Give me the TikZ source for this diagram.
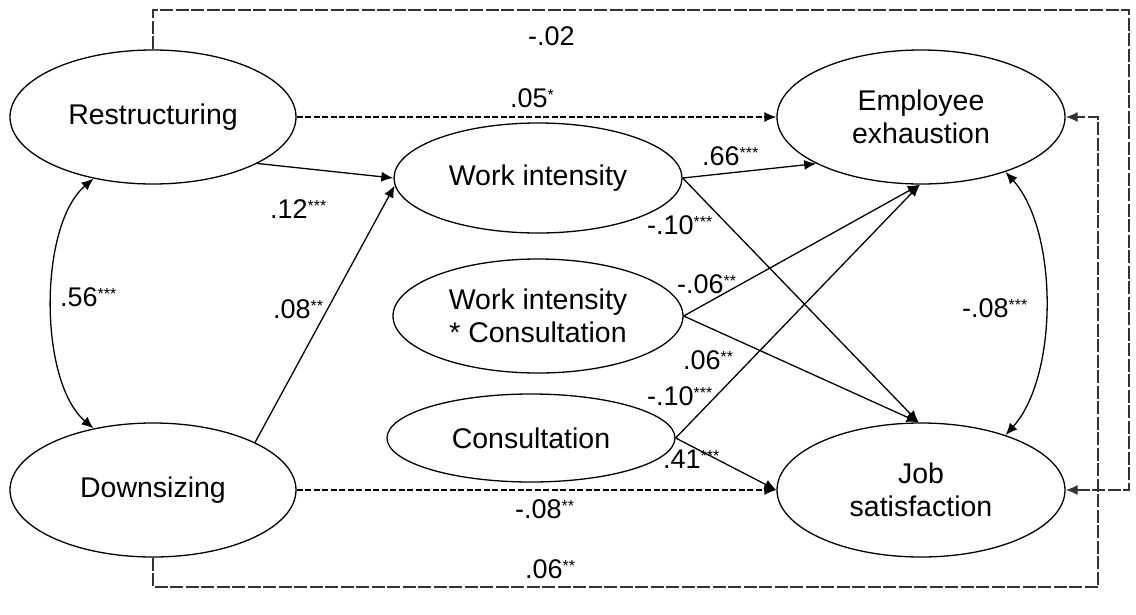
\documentclass[tikz,border=0pt]{standalone}
\usepackage{fontspec}
\setmainfont{Liberation Sans}
\usetikzlibrary{shapes.geometric,arrows.meta}
\newcommand{\sg}[1]{\raisebox{7pt}{\fontsize{16}{16}\selectfont #1}}
\begin{document}
\begin{tikzpicture}[x=1pt,y=-1pt,
  var/.style={draw, ellipse, line width=1.3pt, inner sep=0pt, align=center, font=\fontsize{28.5}{33}\selectfont},
  arr/.style={line width=1.3pt, -{Latex[length=12pt,width=10pt]}},
  darr/.style={arr, dash pattern=on 6pt off 2.5pt},
  dbl/.style={line width=1.3pt, {Latex[length=12pt,width=10pt]}-{Latex[length=12pt,width=10pt]}},
  linkbox/.style={line width=1.3pt, draw=black!80, dash pattern=on 13pt off 2.5pt, -{Latex[length=12pt,width=10pt]}},
  lbl/.style={anchor=base west, inner sep=0pt, font=\fontsize{27}{30}\selectfont}]
\useasboundingbox (0,0) rectangle (1136,614);

\node[var, minimum width=286pt, minimum height=134pt] (R) at (153,117) {Restructuring};
\node[var, minimum width=286pt, minimum height=134pt] (D) at (153,490) {Downsizing};
\node[var, minimum width=288pt, minimum height=134pt] (EE) at (921,117) {Employee\\exhaustion};
\node[var, minimum width=288pt, minimum height=134pt] (JS) at (921,490) {Job\\satisfaction};
\node[var, minimum width=288pt, minimum height=110pt] (WI) at (538,178) {Work intensity};
\node[var, minimum width=290pt, minimum height=114pt] (WC) at (538,316) {Work intensity\\* Consultation};
\node[var, minimum width=288pt, minimum height=88pt] (C) at (531,438) {Consultation};

\coordinate (tr) at (1129,10);
\coordinate (br) at (1098,587);

% dashed long links
\draw[linkbox] (R.north) |- (tr) |- (JS.east);
\draw[linkbox] (D.south) |- (br) |- (EE.east);

% paths
\draw[arr] (R.-24) -- (WI.180);
\draw[arr] (D.25) -- (WI.183);
\draw[darr] (R.east) -- (EE.west);
\draw[darr] (D.east) -- (JS.west);
\draw[arr] (WI.east) -- (EE.204);
\draw[arr] (WI.east) -- (JS.92);
\draw[arr] (WC.east) -- (EE.269);
\draw[arr] (WC.east) -- (JS.92);
\draw[arr] (C.east) -- (EE.269);
\draw[arr] (C.east) -- (JS.west);

% covariances
\draw[dbl] (R.226) .. controls +(-55,47) and +(-55,-47) .. (D.134);
\draw[dbl] (EE.-33) .. controls +(53,59) and +(53,-59) .. (JS.33);

% labels
\node[lbl] (l1) at (528,45) {-.02};
\node[lbl] (l2) at (510,107) {.05\sg{*}};
\node[lbl] (l3) at (270,218) {.12\sg{***}};
\node[lbl] (l4) at (273,318) {.08\sg{**}};
\node[lbl] (l5) at (60,306) {.56\sg{***}};
\node[lbl] (l6) at (702,165) {.66\sg{***}};
\node[lbl] (l7) at (647,234) {-.10\sg{***}};
\node[lbl] (l8) at (677,293) {-.06\sg{**}};
\node[lbl] (l9) at (683,369) {.06\sg{**}};
\node[lbl] (l10) at (647,405) {-.10\sg{***}};
\node[lbl] (l11) at (663,468) {.41\sg{***}};
\node[lbl] (l12) at (515,518) {-.08\sg{**}};
\node[lbl] (l13) at (525,578) {.06\sg{**}};
\node[lbl] (l14) at (962,317) {-.08\sg{***}};
\end{tikzpicture}
\end{document}
